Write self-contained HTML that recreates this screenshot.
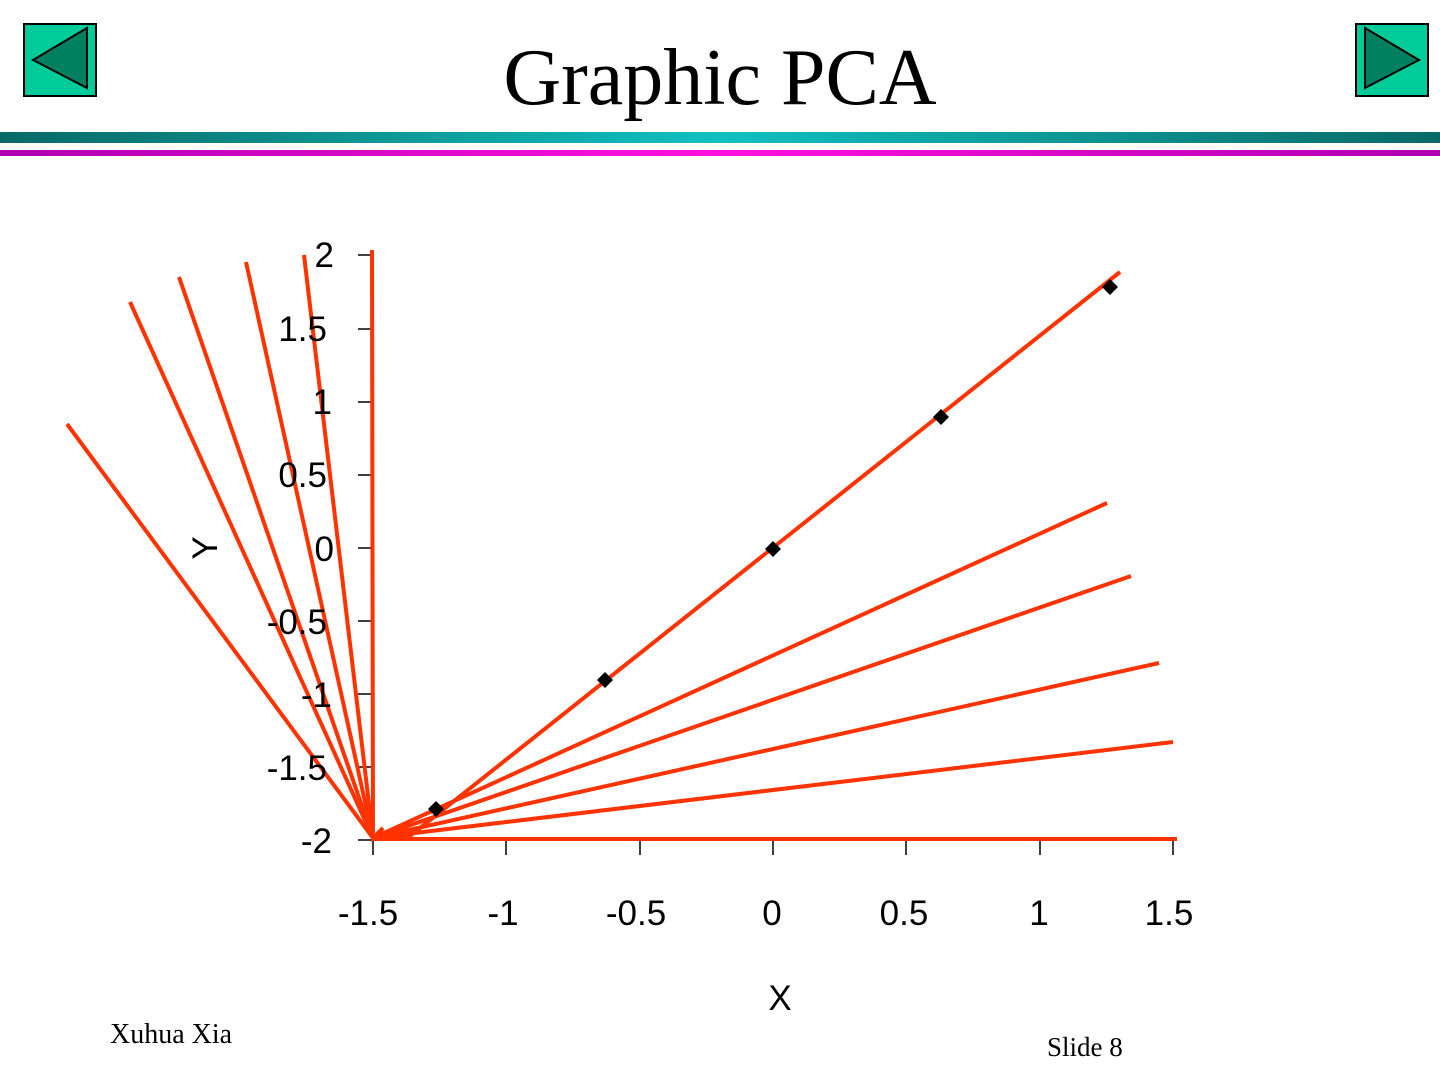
<!DOCTYPE html>
<html><head><meta charset="utf-8"><style>
body{margin:0;width:1440px;height:1080px;background:#fff;overflow:hidden;position:relative;font-family:"Liberation Sans",sans-serif}
.t{position:absolute;font-family:"Liberation Serif",serif;white-space:nowrap}
</style></head><body>
<svg width="1440" height="1080" style="position:absolute;left:0;top:0">
<defs><linearGradient id="g" x1="0" x2="1"><stop offset="0" stop-color="#0a6a66"/><stop offset="0.5" stop-color="#10c0c0"/><stop offset="1" stop-color="#0a6a66"/></linearGradient>
<linearGradient id="m" x1="0" x2="1"><stop offset="0" stop-color="#b000b0"/><stop offset="0.5" stop-color="#ff10e0"/><stop offset="1" stop-color="#b000b0"/></linearGradient></defs>
<rect x="0" y="132" width="1440" height="11" fill="url(#g)"/>
<rect x="0" y="150" width="1440" height="6" fill="url(#m)"/>
<rect x="24" y="24" width="72" height="72" fill="#00cc99" stroke="#000" stroke-width="2"/>
<polygon points="33,60 87,28 87,88" fill="#008060" stroke="#000" stroke-width="2"/>
<rect x="1356" y="24" width="72" height="72" fill="#00cc99" stroke="#000" stroke-width="2"/>
<polygon points="1419,60 1365,28 1365,88" fill="#008060" stroke="#000" stroke-width="2"/>
<g stroke="#000" stroke-width="1.5">
<line x1="373" y1="255" x2="373" y2="855"/><line x1="358" y1="840" x2="1175" y2="840"/>
<line x1="358" y1="255" x2="373" y2="255"/><line x1="358" y1="329" x2="373" y2="329"/><line x1="358" y1="402" x2="373" y2="402"/><line x1="358" y1="475" x2="373" y2="475"/><line x1="358" y1="548" x2="373" y2="548"/><line x1="358" y1="621" x2="373" y2="621"/><line x1="358" y1="694" x2="373" y2="694"/><line x1="358" y1="767" x2="373" y2="767"/>
<line x1="506" y1="840" x2="506" y2="855"/><line x1="640" y1="840" x2="640" y2="855"/><line x1="773" y1="840" x2="773" y2="855"/><line x1="906" y1="840" x2="906" y2="855"/><line x1="1040" y1="840" x2="1040" y2="855"/><line x1="1173" y1="840" x2="1173" y2="855"/>
</g>
<g stroke="#ff3300" stroke-width="4" fill="none">
<polyline points="373,838 410,836 1120,272"/>
<line x1="373" y1="838" x2="1107" y2="503"/>
<line x1="373" y1="838" x2="1131" y2="576"/>
<line x1="373" y1="838" x2="1159" y2="663"/>
<line x1="373" y1="838" x2="1173" y2="742"/>
<line x1="373" y1="839" x2="1177" y2="839"/>
<line x1="373" y1="838" x2="372" y2="250"/>
<polyline points="383,828 373,838 304,255"/>
<polyline points="383,828 373,838 246,262"/>
<line x1="373" y1="838" x2="179" y2="277"/>
<line x1="373" y1="838" x2="130" y2="302"/>
<line x1="373" y1="838" x2="67" y2="424"/>
</g>
<g fill="#000">
<polygon points="436,801 444,809 436,817 428,809"/>
<polygon points="605,672 613,680 605,688 597,680"/>
<polygon points="773,541 781,549 773,557 765,549"/>
<polygon points="941,409 949,417 941,425 933,417"/>
<polygon points="1110,279 1118,287 1110,295 1102,287"/>
</g>
<g font-family="Liberation Sans, sans-serif" font-size="35" text-anchor="end">
<text x="334" y="267">2</text><text x="327" y="341">1.5</text><text x="332" y="414">1</text><text x="327" y="487">0.5</text><text x="334" y="561">0</text><text x="327" y="634">-0.5</text><text x="332" y="707">-1</text><text x="327" y="780">-1.5</text><text x="332" y="853">-2</text>
</g>
<g font-family="Liberation Sans, sans-serif" font-size="35" text-anchor="middle">
<text x="368" y="925">-1.5</text><text x="503" y="925">-1</text><text x="636" y="925">-0.5</text><text x="772" y="925">0</text><text x="904" y="925">0.5</text><text x="1039" y="925">1</text><text x="1169" y="925">1.5</text>
<text x="780" y="1010">X</text>
<text x="0" y="0" transform="translate(217,548) rotate(-90)">Y</text>
</g>
</svg>
<div class="t" style="left:0;width:1440px;text-align:center;top:34px;font-size:80px;line-height:88px">Graphic PCA</div>
<div class="t" style="left:110px;top:1019px;font-size:28px">Xuhua Xia</div>
<div class="t" style="left:1047px;top:1032px;font-size:27px">Slide 8</div>
</body></html>
